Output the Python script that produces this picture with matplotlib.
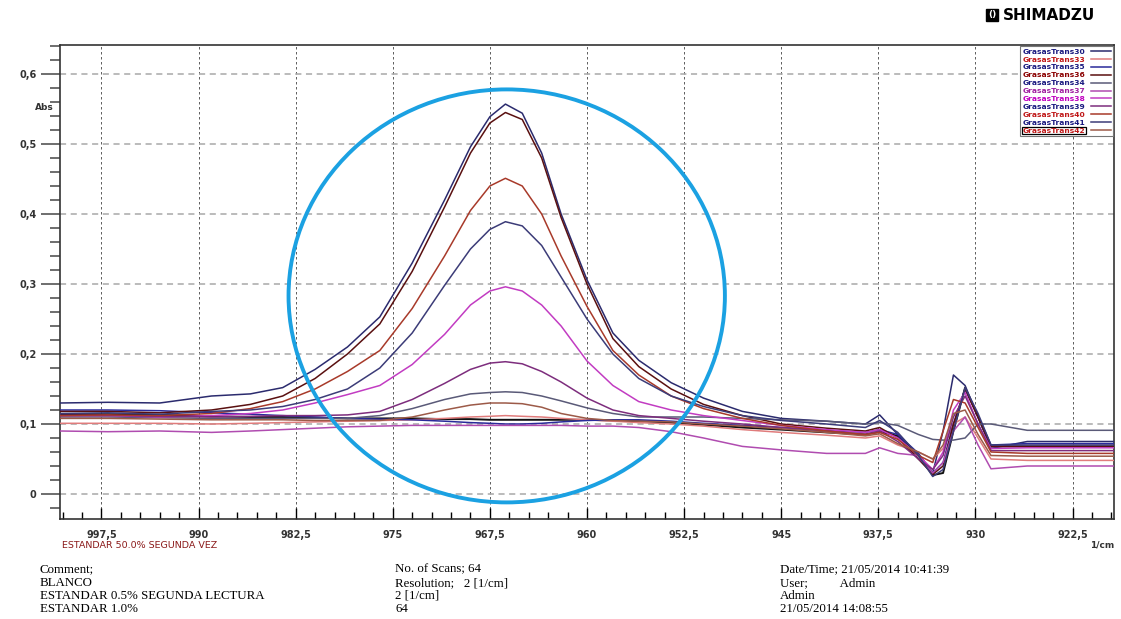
import matplotlib
matplotlib.use("Agg")
import matplotlib.pyplot as plt
from matplotlib.patches import Ellipse
from matplotlib.ticker import MultipleLocator, FuncFormatter

# wavenumbers (1/cm)
wn = [1000.7, 997.0, 993.0, 989.0, 986.0, 983.5, 981.0, 978.5, 976.0, 973.5,
      971.0, 969.0, 967.5, 966.3, 965.0, 963.5, 962.0, 960.0, 958.0, 956.0,
      953.5, 951.0, 948.0, 945.0, 941.5, 938.5, 937.4, 936.0, 934.4, 933.3,
      932.5, 931.7, 930.8, 929.8, 928.8, 926.0, 922.0, 919.2]

gt30 = [0.130, 0.131, 0.130, 0.140, 0.143, 0.152, 0.178, 0.210, 0.253, 0.330,
        0.420, 0.496, 0.539, 0.557, 0.544, 0.487, 0.400, 0.306, 0.230, 0.191,
        0.159, 0.137, 0.118, 0.108, 0.104, 0.100, 0.113, 0.085, 0.050, 0.030,
        0.090, 0.170, 0.155, 0.110, 0.065, 0.075, 0.075, 0.075]
gt36 = [0.118, 0.118, 0.116, 0.120, 0.128, 0.140, 0.165, 0.200, 0.243, 0.318,
        0.410, 0.487, 0.530, 0.545, 0.535, 0.480, 0.395, 0.300, 0.222, 0.182,
        0.150, 0.128, 0.112, 0.100, 0.094, 0.090, 0.095, 0.080, 0.050, 0.028,
        0.040, 0.100, 0.150, 0.110, 0.068, 0.068, 0.068, 0.068]
gt40 = [0.112, 0.113, 0.112, 0.115, 0.122, 0.132, 0.150, 0.175, 0.205, 0.265,
        0.340, 0.405, 0.440, 0.451, 0.440, 0.400, 0.340, 0.268, 0.205, 0.170,
        0.140, 0.122, 0.108, 0.098, 0.090, 0.085, 0.088, 0.078, 0.055, 0.045,
        0.090, 0.135, 0.130, 0.095, 0.060, 0.058, 0.058, 0.058]
gt41 = [0.115, 0.116, 0.114, 0.118, 0.120, 0.125, 0.135, 0.150, 0.180, 0.230,
        0.298, 0.350, 0.378, 0.389, 0.383, 0.355, 0.310, 0.250, 0.200, 0.165,
        0.140, 0.125, 0.112, 0.105, 0.100, 0.095, 0.105, 0.088, 0.055, 0.025,
        0.035, 0.090, 0.152, 0.115, 0.070, 0.070, 0.070, 0.070]
gt38 = [0.112, 0.112, 0.110, 0.112, 0.115, 0.120, 0.130, 0.142, 0.155, 0.185,
        0.228, 0.270, 0.290, 0.296, 0.290, 0.270, 0.240, 0.190, 0.155, 0.132,
        0.120, 0.112, 0.105, 0.098, 0.092, 0.088, 0.092, 0.080, 0.055, 0.035,
        0.060, 0.120, 0.145, 0.100, 0.065, 0.066, 0.066, 0.066]
gt39 = [0.112, 0.112, 0.111, 0.110, 0.111, 0.112, 0.112, 0.113, 0.118, 0.135,
        0.158, 0.178, 0.187, 0.189, 0.186, 0.175, 0.160, 0.137, 0.120, 0.112,
        0.108, 0.104, 0.100, 0.095, 0.090, 0.085, 0.090, 0.075, 0.050, 0.035,
        0.055, 0.110, 0.140, 0.100, 0.062, 0.062, 0.062, 0.062]
gt34 = [0.110, 0.110, 0.109, 0.108, 0.108, 0.108, 0.108, 0.108, 0.112, 0.122,
        0.135, 0.143, 0.145, 0.146, 0.145, 0.140, 0.133, 0.123, 0.115, 0.110,
        0.110, 0.110, 0.108, 0.106, 0.104, 0.100, 0.102, 0.098, 0.085, 0.078,
        0.077, 0.077, 0.080, 0.100, 0.100, 0.091, 0.091, 0.091]
gt42 = [0.108, 0.108, 0.107, 0.106, 0.106, 0.106, 0.105, 0.105, 0.105, 0.110,
        0.120, 0.127, 0.130, 0.130, 0.129, 0.124, 0.115, 0.108, 0.105, 0.104,
        0.103, 0.100, 0.097, 0.093, 0.088, 0.083, 0.086, 0.072, 0.060, 0.050,
        0.070, 0.115, 0.120, 0.085, 0.055, 0.054, 0.054, 0.054]
gt33 = [0.101, 0.101, 0.101, 0.100, 0.101, 0.102, 0.103, 0.104, 0.105, 0.106,
        0.108, 0.110, 0.111, 0.112, 0.111, 0.110, 0.108, 0.106, 0.104, 0.102,
        0.100, 0.097, 0.092, 0.088, 0.084, 0.080, 0.083, 0.070, 0.060, 0.050,
        0.065, 0.100, 0.110, 0.080, 0.050, 0.048, 0.048, 0.048]
blanco = [0.114, 0.114, 0.113, 0.111, 0.110, 0.110, 0.109, 0.108, 0.108, 0.108,
          0.107, 0.107, 0.106, 0.106, 0.106, 0.106, 0.106, 0.106, 0.105, 0.104,
          0.102, 0.099, 0.095, 0.092, 0.088, 0.085, 0.089, 0.083, 0.055, 0.027,
          0.030, 0.090, 0.152, 0.110, 0.068, 0.068, 0.068, 0.068]
gt35 = [0.120, 0.120, 0.119, 0.116, 0.114, 0.112, 0.110, 0.108, 0.107, 0.106,
        0.104, 0.102, 0.101, 0.100, 0.100, 0.101, 0.103, 0.105, 0.106, 0.106,
        0.104, 0.101, 0.098, 0.095, 0.091, 0.088, 0.092, 0.085, 0.058, 0.030,
        0.045, 0.100, 0.150, 0.112, 0.070, 0.072, 0.072, 0.072]
gt37 = [0.090, 0.089, 0.090, 0.088, 0.090, 0.092, 0.094, 0.096, 0.097, 0.098,
        0.098, 0.098, 0.098, 0.098, 0.098, 0.098, 0.098, 0.097, 0.097, 0.095,
        0.089, 0.080, 0.068, 0.063, 0.058, 0.058, 0.066, 0.058, 0.055, 0.030,
        0.045, 0.090, 0.110, 0.070, 0.036, 0.040, 0.040, 0.040]

# legend order as in the reference
legend_names = ["GrasasTrans30", "GrasasTrans33", "GrasasTrans35", "GrasasTrans36",
                "GrasasTrans34", "GrasasTrans37", "GrasasTrans38", "GrasasTrans39",
                "GrasasTrans40", "GrasasTrans41", "GrasasTrans42"]
legend_series = [gt30, gt33, gt35, gt36, gt34, gt37, gt38, gt39, gt40, gt41, gt42]
line_colors = ["#2b2b6e", "#e07c7c", "#2a2a9a", "#5a1010", "#5a5a78", "#b04cb0",
               "#c23cc2", "#7d2d7d", "#a83a2a", "#3c3c78", "#9c5a48"]
text_colors = ["#1a1a80", "#c01818", "#1a1a80", "#8b0000", "#1a1a80", "#a020a0",
               "#c000c0", "#1a1a80", "#c01818", "#1a1a80", "#c01818"]


def comma(v, pos):
    if abs(v) < 1e-9:
        return "0"
    s = f"{v:.1f}".replace(".", ",")
    if s.endswith(",0"):
        s = s[:-2]
    return s


W, H = 1121, 619
fig = plt.figure(figsize=(W / 100, H / 100), dpi=100)
ax = fig.add_axes([60 / W, 1 - 519 / H, 1054 / W, 474 / H])

ax.plot(wn, blanco, color="#111111", lw=1.4, zorder=2)
for ys, c, name in zip(legend_series, line_colors, legend_names):
    ax.plot(wn, ys, color=c, lw=1.1, label=name, zorder=3)

ax.set_xlim(1000.7, 919.3)
ax.set_ylim((494 - 519) / 700, (494 - 45) / 700)

ax.xaxis.set_major_locator(MultipleLocator(7.5))
ax.xaxis.set_minor_locator(MultipleLocator(1.5))
ax.yaxis.set_major_locator(MultipleLocator(0.1))
ax.yaxis.set_minor_locator(MultipleLocator(0.02))
ax.xaxis.set_major_formatter(FuncFormatter(comma))
ax.yaxis.set_major_formatter(FuncFormatter(comma))

ax.tick_params(axis="y", which="major", direction="out", length=14, width=1.2,
               labelsize=7, pad=3, color="#555555")
ax.tick_params(axis="y", which="minor", direction="out", length=7, width=1.2,
               color="#555555")
ax.tick_params(axis="x", which="major", direction="in", length=8, width=1.0,
               labelsize=7, pad=8)
ax.tick_params(axis="x", which="minor", direction="in", length=5, width=1.0)
for lab in ax.get_xticklabels() + ax.get_yticklabels():
    lab.set_fontweight("bold")
    lab.set_color("#333333")

ax.grid(axis="y", which="major", color="#a8a8a8", ls=(0, (4, 3)), lw=1.1)
ax.grid(axis="x", which="major", color="#444444", ls=(0, (3, 3)), lw=0.6)
for sp in ax.spines.values():
    sp.set_linewidth(1.2)
    sp.set_color("#333333")

# highlight circle drawn over the peak
ell = Ellipse((966.2, 0.283), 33.7, 0.59, fill=False, edgecolor="#1ba1e2",
              lw=2.8, zorder=5, clip_on=False)
ax.add_patch(ell)

leg = ax.legend(loc="upper right", markerfirst=False, fontsize=5.4,
                handlelength=2.6, handletextpad=0.8, labelspacing=0.22,
                borderpad=0.35, borderaxespad=0.1, fancybox=False,
                edgecolor="#777777", framealpha=1)
leg.get_frame().set_linewidth(0.8)
for txt, c in zip(leg.get_texts(), text_colors):
    txt.set_color(c)
    txt.set_fontweight("bold")
leg.get_texts()[-1].set_bbox(dict(facecolor="none", edgecolor="black", lw=0.9, pad=0.6))


def px(x, y):
    return x / W, 1 - y / H


fig.text(*px(44, 108), "Abs", fontsize=6.5, fontweight="bold", ha="center", va="center", color="#333333")
fig.text(*px(1114, 545), "1/cm", fontsize=6.5, fontweight="bold", ha="right", va="center", color="#333333")
fig.text(*px(62, 546), "ESTANDAR 50.0% SEGUNDA VEZ", fontsize=6.8, color="#8b1a1a", va="center")

serif = "Liberation Serif"
left_col = ["Comment;", "BLANCO", "ESTANDAR 0.5% SEGUNDA LECTURA", "ESTANDAR 1.0%"]
mid_col = ["No. of Scans; 64", "Resolution;   2 [1/cm]", "2 [1/cm]", "64"]
right_col = ["Date/Time; 21/05/2014 10:41:39", "User;          Admin", "Admin", "21/05/2014 14:08:55"]
rows = [569, 583, 596, 609]
for t, y in zip(left_col, rows):
    fig.text(*px(40, y), t, fontsize=9.3, family=serif, va="center")
for t, y in zip(mid_col, rows):
    fig.text(*px(395, y), t, fontsize=9.3, family=serif, va="center")
for t, y in zip(right_col, rows):
    fig.text(*px(780, y), t, fontsize=9.3, family=serif, va="center")

# logo
fig.text(*px(992, 15), "()", fontsize=6.5, fontweight="bold", color="white", ha="center", va="center",
         bbox=dict(boxstyle="square,pad=0.2", facecolor="black", edgecolor="black"))
fig.text(*px(1003, 15), "SHIMADZU", fontsize=11, fontweight="heavy", ha="left", va="center",
         family="DejaVu Sans")

fig.savefig("out.png", dpi=100)
